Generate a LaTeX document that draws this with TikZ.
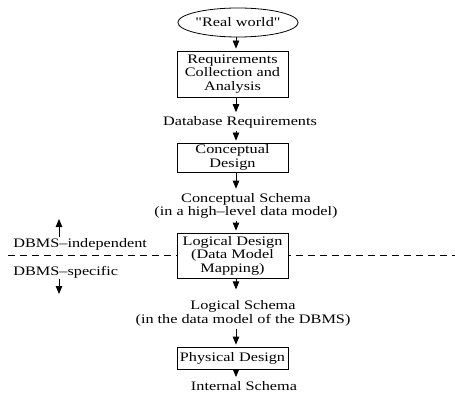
\documentclass[tikz,border=0pt]{standalone}
\usepackage{fontspec}
\setmainfont[FakeStretch=1.25,Ligatures=TeXOff]{Liberation Serif}
\usetikzlibrary{arrows.meta,shapes.geometric}

\begin{document}
\begin{tikzpicture}[x=1pt,y=-1pt,line width=0.8pt,
    font=\fontsize{13pt}{13.5pt}\selectfont,
    stage/.style={draw,fill=white,align=center,minimum width=111pt,inner sep=1pt},
    schema/.style={align=center,inner sep=2pt},
    flow/.style={-{Triangle[length=8pt,width=6.5pt]},shorten >=2pt}]
  \useasboundingbox (0,0) rectangle (455,393);
  %\draw[help lines,step=50] (0,0) grid (455,393);
  \coordinate (spine) at (236,0);
  %SEPARATION INDEPENDENT / SPECIFIC
  \draw[dash pattern=on 7pt off 5pt] (8,255) -- (455,255);
  %START
  \node[ellipse,draw,minimum width=90pt,minimum height=29pt,inner sep=0pt] (world) at (238,22.5) {"Real world"};
  %DESIGN STAGES
  \node[stage,minimum height=46pt] (req) at (232.5,74) {Requirements\\Collection and\\Analysis};
  \node[stage,minimum height=29pt] (concept) at (232.5,157.5) {Conceptual\\Design};
  \node[stage,minimum height=45pt] (logic) at (232.5,255.5) {Logical Design\\(Data Model\\Mapping)};
  \node[stage,minimum height=22pt] (phys) at (232.5,358) {Physical Design};
  %RESULTS
  \node[schema] (dbreq) at (240,122.5) {Database Requirements};
  \node[schema] (concschema) at (246,205.7) {Conceptual Schema\\(in a high–level data model)};
  \node[schema] (logschema) at (243,313.5) {Logical Schema\\(in the data model of the DBMS)};
  \node[schema] (intschema) at (244,386) {Internal Schema};
  %FLOW
  \draw[flow] (world.south -| spine) -- (req.north -| spine);
  \draw[flow] (req.south -| spine) -- (dbreq.north -| spine);
  \draw[flow] (dbreq.south -| spine) -- (concept.north -| spine);
  \draw[flow] (concept.south -| spine) -- (concschema.north -| spine);
  \draw[flow] (concschema.south -| spine) -- (logic.north -| spine);
  \draw[flow,shorten >=9pt] (logic.south -| spine) -- (logschema.north -| spine);
  \draw[flow] (logschema.south -| spine) -- (phys.north -| spine);
  \draw[flow] (phys.south -| spine) -- (intschema.north -| spine);
  %LEFT SIDE
  \node[anchor=base west,inner sep=1pt] (indep) at (12,247) {DBMS–independent};
  \node[anchor=base west,inner sep=1pt] (spec) at (12,275) {DBMS–specific};
  \coordinate (up) at (59,219);
  \coordinate (down) at (59,294);
  \draw[flow,shorten >=0pt] (indep.north -| up) -- (up);
  \draw[flow,shorten >=0pt] (spec.south -| down) -- (down);
\end{tikzpicture}
\end{document}
